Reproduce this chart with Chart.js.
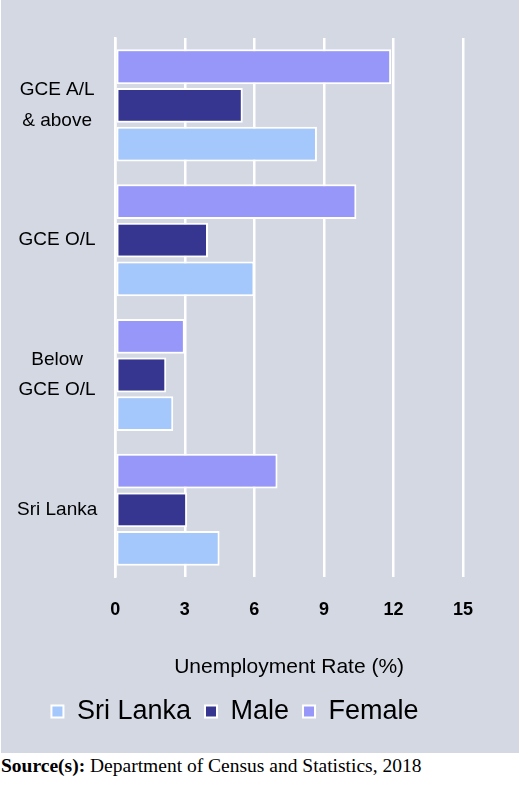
<!DOCTYPE html>
<html lang="en">
<head>
    <meta charset="UTF-8">
    <title>Unemployment Rate by Education</title>
    <script src="https://cdn.jsdelivr.net/npm/chart.js"></script>
    <style>
        body { margin: 0; background: #fff; width: 520px; }
        .chart-box { width: 518px; height: 753px; background: #d3d8e3; margin-left: 1px; }
        .source { font-family: "Liberation Serif", "Times New Roman", serif; font-size: 19.5px; margin: 2px 0 0 1px; white-space: nowrap; }
    </style>
</head>
<body>
    <div class="chart-box"><canvas id="rateChart" width="518" height="753"></canvas></div>
    <div class="source"><b>Source(s):</b> Department of Census and Statistics, 2018</div>

    <script>
        const categories = [["GCE A/L", "& above"], "GCE O/L", ["Below", "GCE O/L"], "Sri Lanka"];
        const femaleRates = [11.9, 10.4, 3.0, 7.0];
        const maleRates = [5.5, 4.0, 2.2, 3.1];
        const sriLankaRates = [8.7, 6.0, 2.5, 4.5];
        const xTicks = [0, 3, 6, 9, 12, 15];

        const font = "'Liberation Sans', Arial, sans-serif";

        new Chart(document.getElementById("rateChart"), {
            type: "bar",
            data: {
                labels: categories,
                datasets: [
                    { label: "Female", data: femaleRates, backgroundColor: "#9797f9" },
                    { label: "Male", data: maleRates, backgroundColor: "#363691" },
                    { label: "Sri Lanka", data: sriLankaRates, backgroundColor: "#a4c8fb" }
                ]
            },
            options: {
                indexAxis: "y",
                responsive: false,
                animation: false,
                layout: { padding: { top: 38, right: 56, left: 6, bottom: 18 } },
                datasets: {
                    bar: {
                        borderColor: "#ffffff",
                        borderWidth: 2,
                        borderSkipped: false,
                        categoryPercentage: 0.86,
                        barPercentage: 0.9
                    }
                },
                scales: {
                    x: {
                        min: 0,
                        max: 15,
                        afterBuildTicks: axis => { axis.ticks = xTicks.map(v => ({ value: v })); },
                        grid: { color: "#ffffff", lineWidth: 2.5, drawTicks: false },
                        border: { display: false },
                        ticks: { color: "#000", padding: 22, font: { family: font, size: 18, weight: "bold" } },
                        title: {
                            display: true,
                            text: "Unemployment Rate (%)",
                            color: "#000",
                            padding: { top: 12, bottom: 4 },
                            font: { family: font, size: 21 }
                        }
                    },
                    y: {
                        grid: { display: false },
                        border: { color: "#ffffff", width: 2.5 },
                        ticks: {
                            color: "#000",
                            crossAlign: "center",
                            padding: 10,
                            font: { family: font, size: 19, lineHeight: 1.6 }
                        }
                    }
                },
                plugins: {
                    legend: {
                        position: "bottom",
                        reverse: true,
                        labels: {
                            color: "#000",
                            boxWidth: 12,
                            boxHeight: 12,
                            padding: 14,
                            font: { family: font, size: 27 },
                            generateLabels: chart => Chart.defaults.plugins.legend.labels.generateLabels(chart).map(l => ({ ...l, strokeStyle: "#ffffff", lineWidth: 2 }))
                        }
                    },
                    tooltip: { enabled: false }
                }
            }
        });
    </script>
</body>
</html>
